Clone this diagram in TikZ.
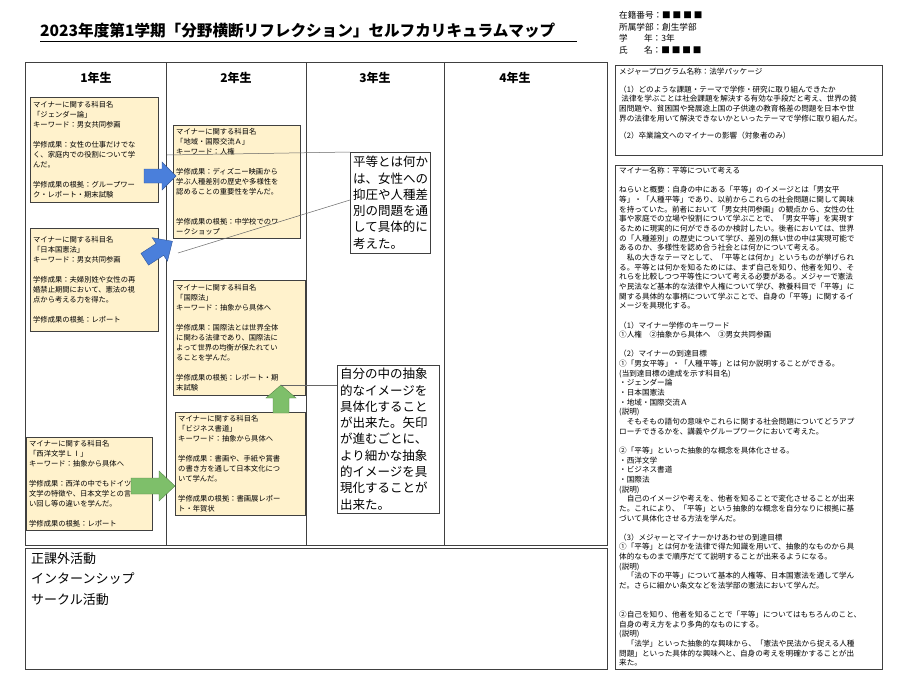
\documentclass[tikz,border=0pt]{standalone}
\usepackage{fontspec}
\setmainfont{Noto Sans CJK JP}
\definecolor{boxfill}{HTML}{FFF2CC}
\definecolor{boxline}{HTML}{404040}
\definecolor{bluearr}{HTML}{4A7FDB}
\definecolor{greenarr}{HTML}{7EBF6A}
\begin{document}
\begin{tikzpicture}[x=1pt,y=-1pt,
  sub/.style={draw=boxline,fill=boxfill,anchor=north west,inner sep=3pt,align=left,font=\fontsize{7.3}{10}\selectfont,text width=#1},
  note/.style={draw=boxline,fill=white,anchor=north west,inner sep=3pt,align=left,font=\fontsize{12.5}{16.3}\selectfont,text width=#1},
  panel/.style={draw=boxline,anchor=north west,inner sep=0pt},
  ptext/.style={anchor=north west,inner sep=0pt,align=left,font=\fontsize{7.6}{9.65}\selectfont},
  blk/.style={draw=#1!70!black,fill=#1,line width=0.4pt},
  conn/.style={draw=black!60,line width=0.5pt}]
\useasboundingbox (0,0) rectangle (900,675);
\fill[white] (0,0) rectangle (900,675);
% title
\node[anchor=west,inner sep=0pt,font=\fontsize{15.6}{17}\selectfont\bfseries] (title) at (40,31) {2023年度第1学期「分野横断リフレクション」セルフカリキュラムマップ};
\draw[line width=0.8pt] (40,41) -- (577,41);
% header
\node[anchor=north west,inner sep=0pt,align=left,font=\fontsize{8.6}{11.6}\selectfont] (hdr) at (619,11) {在籍番号：■ ■ ■ ■\\所属学部：創生学部\\学\hspace{1.9em}年：3年\\氏\hspace{1.9em}名：■ ■ ■ ■};
% grid
\draw[boxline] (25,62) rectangle (607,545);
\foreach \xx in {166,306,444} \draw[boxline] (\xx,62) -- (\xx,545);
\foreach \t/\xx in {1年生/96,2年生/236,3年生/375,4年生/515}
  \node[font=\fontsize{12}{14}\selectfont\bfseries] at (\xx,78) {\t};
% bottom box
\node[panel,minimum width=582pt,minimum height=121pt] (extra) at (25,548) {};
\node[anchor=north west,inner sep=0pt,align=left,font=\fontsize{13}{20.5}\selectfont] at (31,552) {正課外活動\\インターンシップ\\サークル活動};
% subject boxes
\node[sub=122pt,minimum height=105pt] (a1) at (30,97) {マイナーに関する科目名\\「ジェンダー論」\\キーワード：男女共同参画\\[10pt]学修成果：女性の仕事だけでな\\く、家庭内での役割について学\\んだ。\\[10pt]学修成果の根拠：グループワー\\ク・レポート・期末試験};
\node[sub=122pt,minimum height=103pt] (a2) at (30,228) {マイナーに関する科目名\\「日本国憲法」\\キーワード：男女共同参画\\[10pt]学修成果：夫婦別姓や女性の再\\婚禁止期間において、憲法の視\\点から考える力を得た。\\[10pt]学修成果の根拠：レポート};
\node[sub=120pt,minimum height=78pt] (a3) at (26,437) {マイナーに関する科目名\\「西洋文学ＬⅠ」\\キーワード：抽象から具体へ\\[10pt]学修成果：西洋の中でもドイツ\\文学の特徴や、日本文学との言\\い回し等の違いを学んだ。\\[10pt]学修成果の根拠：レポート};
\node[sub=121pt,minimum height=110pt] (b1) at (173,125) {マイナーに関する科目名\\「地域・国際交流Ａ」\\キーワード：人権\\[10pt]学修成果：ディズニー映画から\\学ぶ人種差別の歴史や多様性を\\認めることの重要性を学んだ。\\[20pt]学修成果の根拠：中学校でのワ\\ークショップ};
\node[sub=126pt,minimum height=115pt] (b2) at (173,280) {マイナーに関する科目名\\「国際法」\\キーワード：抽象から具体へ\\[10pt]学修成果：国際法とは世界全体\\に関わる法律であり、国際法に\\よって世界の均衡が保たれてい\\ることを学んだ。\\[10pt]学修成果の根拠：レポート・期\\末試験};
\node[sub=124pt,minimum height=103pt] (b3) at (175,412) {マイナーに関する科目名\\「ビジネス書道」\\キーワード：抽象から具体へ\\[10pt]学修成果：書画や、手紙や賞書\\の書き方を通して日本文化につ\\いて学んだ。\\[10pt]学修成果の根拠：書画展レポー\\ト・年賀状};
% notes
\node[note=74pt,minimum height=101pt] (c1) at (350,152) {平等とは何か\\は、女性への\\抑圧や人種差\\別の問題を通\\して具体的に\\考えた。};
\node[note=96pt,minimum height=143pt] (c2) at (337,365) {自分の中の抽象\\的なイメージを\\具体化すること\\が出来た。矢印\\が進むごとに、\\より細かな抽象\\的イメージを具\\現化することが\\出来た。};
% block arrows
\draw[blk=bluearr,shift={(160,176)}] (-16,-7) -- (2,-7) -- (2,-14) -- (16,0) -- (2,14) -- (2,7) -- (-16,7) -- cycle;
\draw[blk=bluearr,shift={(159,250)},rotate=33] (-17,-7) -- (1,-7) -- (1,-14) -- (16,0) -- (1,14) -- (1,7) -- (-17,7) -- cycle;
\draw[blk=greenarr,shift={(152,486)}] (-21,-8) -- (7,-8) -- (7,-15) -- (23,0) -- (7,15) -- (7,8) -- (-21,8) -- cycle;
\draw[blk=greenarr,shift={(281,399)},rotate=90] (-14,-8) -- (1,-8) -- (1,-15) -- (14,0) -- (1,15) -- (1,8) -- (-14,8) -- cycle;
% connectors
\coordinate (p1) at (167,155);
\coordinate (p2) at (178,253);
\coordinate (p3) at (281,385);
\draw[conn] (p1) -- (c1.north west);
\draw[conn] (p2) -- ([yshift=-48pt]c1.north west);
\draw[conn] (p3) -- ([yshift=-20pt]c2.north west);
% major box
\node[panel,minimum width=267pt,minimum height=90pt] (major) at (615,65) {};
\node[ptext] at (619,68) {メジャープログラム名称：法学パッケージ\\[8pt]（1）どのような課題・テーマで学修・研究に取り組んできたか\\\hspace{0.3em}法律を学ぶことは社会課題を解決する有効な手段だと考え、世界の貧\\困問題や、貧困国や発展途上国の子供達の教育格差の問題を日本や世\\界の法律を用いて解決できないかといったテーマで学修に取り組んだ。\\[8pt]（2）卒業論文へのマイナーの影響（対象者のみ）};
% minor box
\node[panel,minimum width=267pt,minimum height=504pt] (minor) at (615,165) {};
\node[ptext] at (619,167) {マイナー名称：平等について考える\\[9.65pt]
ねらいと概要：自身の中にある「平等」のイメージとは「男女平\\
等」・「人種平等」であり、以前からこれらの社会問題に関して興味\\
を持っていた。前者において「男女共同参画」の観点から、女性の仕\\
事や家庭での立場や役割について学ぶことで、「男女平等」を実現す\\
るために現実的に何ができるのか検討したい。後者においては、世界\\
の「人種差別」の歴史について学び、差別の無い世の中は実現可能で\\
あるのか、多様性を認め合う社会とは何かについて考える。\\
　私の大きなテーマとして、「平等とは何か」というものが挙げられ\\
る。平等とは何かを知るためには、まず自己を知り、他者を知り、そ\\
れらを比較しつつ平等性について考える必要がある。メジャーで憲法\\
や民法など基本的な法律や人権について学び、教養科目で「平等」に\\
関する具体的な事柄について学ぶことで、自身の「平等」に関するイ\\
メージを具現化する。\\[9.65pt]
（1）マイナー学修のキーワード\\
①人権　②抽象から具体へ　③男女共同参画\\[9.65pt]
（2）マイナーの到達目標\\
①「男女平等」・「人種平等」とは何か説明することができる。\\
(当到達目標の達成を示す科目名)\\
・ジェンダー論\\
・日本国憲法\\
・地域・国際交流Ａ\\
(説明)\\
　そもそもの語句の意味やこれらに関する社会問題についてどうアプ\\
ローチできるかを、講義やグループワークにおいて考えた。\\[9.65pt]
②「平等」といった抽象的な概念を具体化させる。\\
・西洋文学\\
・ビジネス書道\\
・国際法\\
(説明)\\
　自己のイメージや考えを、他者を知ることで変化させることが出来\\
た。これにより、「平等」という抽象的な概念を自分なりに根拠に基\\
づいて具体化させる方法を学んだ。\\[9.65pt]
（3）メジャーとマイナーかけあわせの到達目標\\
①「平等」とは何かを法律で得た知識を用いて、抽象的なものから具\\
体的なものまで順序だてて説明することが出来るようになる。\\
(説明)\\
　「法の下の平等」について基本的人権等、日本国憲法を通して学ん\\
だ。さらに細かい条文などを法学部の憲法において学んだ。\\[19.3pt]
②自己を知り、他者を知ることで「平等」についてはもちろんのこと、\\
自身の考え方をより多角的なものにする。\\
(説明)\\
　「法学」といった抽象的な興味から、「憲法や民法から捉える人種\\
問題」といった具体的な興味へと、自身の考えを明確かすることが出\\
来た。};
\end{tikzpicture}
\end{document}
